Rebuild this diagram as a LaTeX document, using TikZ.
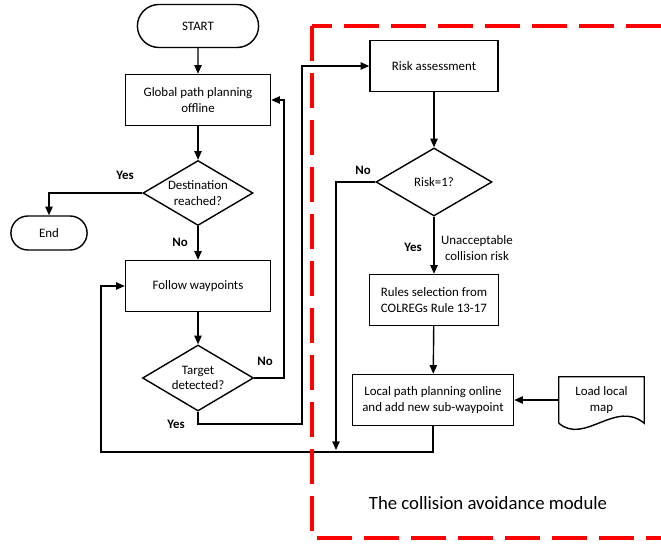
\documentclass[tikz,border=0pt]{standalone}
\usepackage{fontspec}
\setmainfont{Carlito}
\usetikzlibrary{shapes.geometric,shapes.misc,arrows.meta}
\tikzset{
	box/.style={draw=black, line width=1.2pt, minimum width=4.35cm, minimum height=1.53cm, align=center, inner sep=2pt, font=\fontsize{11}{13.5}\selectfont},
	term/.style={draw=black, line width=1.2pt, rounded rectangle, minimum width=3.87cm, minimum height=1.29cm, font=\fontsize{11}{13.5}\selectfont},
	decision/.style={draw=black, line width=1.2pt, diamond, aspect=1.7, inner sep=0pt, align=center, font=\fontsize{11}{13.5}\selectfont},
	flow/.style={draw=black, line width=1.2pt, -{Triangle[length=0.26cm,width=0.22cm]}},
	link/.style={draw=black, line width=1.2pt},
	answer/.style={font=\bfseries\fontsize{11}{13}\selectfont},
	modframe/.style={draw=red, line width=3pt, dash pattern=on 1.05cm off 0.36cm},
}

\begin{document}
\begin{tikzpicture}[x=0.03cm, y=-0.03cm]
				\useasboundingbox (0,0) rectangle (661,544);
				\node[term] (start) at (198,26) {START};
				\node[box] (global) at (198,100) {Global path planning\\offline};
				\node[decision, minimum width=3.3cm, minimum height=1.95cm] (dest) at (198,193) {Destination\\reached?};
				\node[term, minimum width=2.52cm, minimum height=1.02cm] (end) at (49,233) {End};
				\node[box] (follow) at (198,286) {Follow waypoints};
				\node[decision, minimum width=3.33cm, minimum height=1.98cm] (target) at (198,378) {Target\\detected?};
				\node[box, minimum width=3.84cm] (risk) at (434,66) {Risk assessment};
				\node[decision, minimum width=3.48cm, minimum height=2.04cm] (riskq) at (434,182) {Risk=1?};
				\node[box, minimum width=3.87cm] (rules) at (434,300) {Rules selection from\\COLREGs Rule 13-17};
				\node[box, minimum width=4.83cm] (local) at (433,400) {Local path planning online\\and add new sub-waypoint};
				\node[align=center, minimum width=2.55cm, minimum height=1.38cm, font=\fontsize{11}{13.5}\selectfont] (map) at (601.5,400) {Load local\\map};
				\draw[link] (map.south west) -- (map.north west) -- (map.north east) -- (map.south east)
					.. controls +(-29,-24) and +(26,22) .. (map.south west);
				\coordinate (nobend) at (284,378);
				\coordinate (yesbend) at (302,424);
				\coordinate (loopbend) at (101,452);
				\coordinate (nodrop) at (336,450);
				\draw[flow] (start) -- (global);
				\draw[flow] (global) -- (dest);
				\draw[flow] (dest.west) -| (end.north);
				\draw[flow] (dest) -- (follow);
				\draw[flow] (follow) -- (target);
				\draw[flow] (target.east) -- (nobend) |- (global.east);
				\draw[flow] (target.south) |- (yesbend) |- (risk.west);
				\draw[flow] (risk) -- (riskq);
				\draw[flow] (riskq) -- (rules);
				\draw[flow] (riskq.west) -| (nodrop);
				\draw[flow] (rules) -- (local);
				\draw[flow] (map.west) -- (local.east);
				\draw[flow] (local.south) |- (loopbend) |- (follow.west);
				\node[answer] (destyes) at (125,175) {Yes};
				\node[answer] (destno) at (180,242) {No};
				\node[answer] (targetno) at (265,361) {No};
				\node[answer] (targetyes) at (176,424) {Yes};
				\node[answer] (riskno) at (363,170) {No};
				\node[answer] (riskyes) at (413,247) {Yes};
				\node[align=center, font=\fontsize{11}{13.5}\selectfont] (unacc) at (477,248) {Unacceptable\\collision risk};
				\node[font=\fontsize{16}{19}\selectfont] (caption) at (488,503) {The collision avoidance module};
				\draw[modframe] (312,26) -- (312,538) -- (661,538);
				\draw[modframe] (661,26) -- (312,26);
			\end{tikzpicture}
\end{document}
